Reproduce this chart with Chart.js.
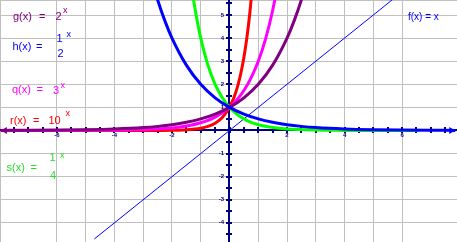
<!DOCTYPE html>
<html>
<head>
<meta charset="utf-8">
<script src="https://cdn.jsdelivr.net/npm/chart.js@4.4.1/dist/chart.umd.min.js"></script>
<style>
  html, body { margin: 0; padding: 0; background: #ffffff; }
  canvas { display: block; }
</style>
</head>
<body>
<canvas id="graph" width="457" height="242"></canvas>
<script>
// Points along each curve
const gX = [-7.95, -7, -6, -5, -4, -3, -2.5, -2, -1.5, -1, -0.5, 0, 0.5, 1, 1.5, 2, 2.25, 2.5, 2.75];
const gY = [0.004, 0.008, 0.016, 0.031, 0.063, 0.125, 0.177, 0.25, 0.354, 0.5, 0.707, 1, 1.414, 2, 2.828, 4, 4.757, 5.657, 6.727];

const hX = [-2.75, -2.5, -2.25, -2, -1.5, -1, -0.5, 0, 0.5, 1, 1.5, 2, 2.5, 3, 4, 5, 6, 7, 7.85];
const hY = [6.727, 5.657, 4.757, 4, 2.828, 2, 1.414, 1, 0.707, 0.5, 0.354, 0.25, 0.177, 0.125, 0.063, 0.031, 0.016, 0.008, 0.004];

const qX = [-7.95, -6, -5, -4, -3, -2.5, -2, -1.5, -1, -0.5, 0, 0.25, 0.5, 0.75, 1, 1.25, 1.5, 1.75];
const qY = [0.0002, 0.0014, 0.0041, 0.0123, 0.037, 0.064, 0.111, 0.192, 0.333, 0.577, 1, 1.316, 1.732, 2.28, 3, 3.948, 5.196, 6.839];

const rX = [-7.95, -4, -3, -2, -1.5, -1, -0.75, -0.5, -0.25, 0, 0.1, 0.2, 0.3, 0.4, 0.5, 0.6, 0.7, 0.8];
const rY = [0, 0.0001, 0.001, 0.01, 0.032, 0.1, 0.178, 0.316, 0.562, 1, 1.259, 1.585, 1.995, 2.512, 3.162, 3.981, 5.012, 6.31];

const sX = [-1.4, -1.3, -1.2, -1.1, -1, -0.75, -0.5, -0.25, 0, 0.25, 0.5, 0.75, 1, 1.5, 2, 3, 4, 5, 6.6];
const sY = [6.964, 6.063, 5.278, 4.595, 4, 2.828, 2, 1.414, 1, 0.707, 0.5, 0.354, 0.25, 0.125, 0.063, 0.016, 0.004, 0.001, 0.0001];

const fX = [-4.7, 5.8];
const fY = [-4.7, 5.8];

// Axis labels
const xTickLabels = [-6, -4, -2, 2, 4, 6];
const yTickLabels = [-4, -3, -2, -1, 1, 2, 3, 4, 5];

const GRID_COLOR = "#c0c0c0";
const AXIS_COLOR = "#000080";
const FONT = '"Liberation Sans", Arial, sans-serif';

/**
 * Zip x and y arrays into scatter points.
 */
function toPoints(xs, ys) {
  return xs.map((x, i) => ({ x: x, y: ys[i] }));
}

function curve(xs, ys, color, width) {
  return {
    data: toPoints(xs, ys),
    borderColor: color,
    backgroundColor: color,
    borderWidth: width,
    showLine: true,
    pointRadius: 0,
    cubicInterpolationMode: "monotone",
  };
}

// Formula labels drawn on the left; [text, x, baseline, size]
const formulas = [
  { color: "#800080", parts: [["g(x)", 13, 20, 11], ["=", 39, 20, 11], ["2", 55.5, 20, 11], ["x", 63, 12.5, 9]] },
  { color: "#0000ff", parts: [["h(x)", 12.5, 50, 11], ["=", 36, 50, 11], ["x", 66.5, 37, 9]],
    frac: [["1", 59.5, 42], ["2", 60.5, 56.5]] },
  { color: "#ff00ff", parts: [["q(x)", 12, 93, 11], ["=", 36.5, 93, 11], ["3", 53, 93.5, 11], ["x", 60.5, 87.5, 9]] },
  { color: "#ff0000", parts: [["r(x)", 10, 123.5, 11], ["=", 33, 123.5, 11], ["10", 48.5, 123.5, 11], ["x", 65.5, 116, 9]] },
  { color: "#28dc28", parts: [["s(x)", 6.5, 171, 11], ["=", 30.5, 171, 11], ["x", 60, 158, 9]],
    frac: [["1", 52.5, 161], ["4", 53, 178.5]] },
  { color: "#0000ff", parts: [["f(x) = x", 408, 19.5, 10]] },
];

/**
 * Axes through the origin with small ticks, drawn under the curves.
 */
const centerAxes = {
  id: "centerAxes",
  beforeDatasetsDraw(chart) {
    const { ctx, chartArea, scales } = chart;
    const x0 = Math.floor(scales.x.getPixelForValue(0));
    const y0 = Math.floor(scales.y.getPixelForValue(0));
    ctx.save();
    ctx.strokeStyle = AXIS_COLOR;
    ctx.lineWidth = 2;
    ctx.beginPath();
    ctx.moveTo(chartArea.left, y0);
    ctx.lineTo(chartArea.right, y0);
    ctx.moveTo(x0, chartArea.top);
    ctx.lineTo(x0, chartArea.bottom);
    // small ticks every half unit
    for (let v = Math.ceil(scales.x.min * 2) / 2; v <= scales.x.max; v += 0.5) {
      const px = Math.round(scales.x.getPixelForValue(v));
      ctx.moveTo(px, y0 - 3);
      ctx.lineTo(px, y0 + 3);
    }
    for (let v = Math.ceil(scales.y.min * 2) / 2; v <= scales.y.max; v += 0.5) {
      const py = Math.round(scales.y.getPixelForValue(v));
      ctx.moveTo(x0 - 3, py);
      ctx.lineTo(x0 + 3, py);
    }
    ctx.stroke();

    ctx.fillStyle = AXIS_COLOR;
    ctx.font = `bold 6px ${FONT}`;
    ctx.textAlign = "center";
    ctx.textBaseline = "middle";
    for (const v of xTickLabels) {
      ctx.fillText(String(v), scales.x.getPixelForValue(v), y0 + 5);
    }
    ctx.textAlign = "right";
    for (const v of yTickLabels) {
      ctx.fillText(String(v), x0 - 5, scales.y.getPixelForValue(v));
    }
    ctx.restore();
  },
};

function drawArrow(ctx, tipX, tipY, dir, color) {
  ctx.fillStyle = color;
  ctx.beginPath();
  ctx.moveTo(tipX, tipY);
  ctx.lineTo(tipX - dir * 6, tipY - 3.5);
  ctx.lineTo(tipX - dir * 6, tipY + 3.5);
  ctx.closePath();
  ctx.fill();
}

/**
 * Arrow heads on the curve ends and the formula text.
 */
const decorations = {
  id: "decorations",
  afterDatasetsDraw(chart) {
    const { ctx } = chart;
    const hMeta = chart.getDatasetMeta(0);
    const gMeta = chart.getDatasetMeta(1);
    ctx.save();
    const gStart = gMeta.data[0];
    drawArrow(ctx, gStart.x, gStart.y, -1, "#800080");
    const hEnd = hMeta.data[hMeta.data.length - 1];
    drawArrow(ctx, hEnd.x, hEnd.y, 1, "#0000ff");

    ctx.textBaseline = "alphabetic";
    for (const f of formulas) {
      ctx.fillStyle = f.color;
      ctx.textAlign = "left";
      for (const [text, x, y, size] of f.parts) {
        ctx.font = `${size}px ${FONT}`;
        ctx.fillText(text, x, y);
      }
      if (f.frac) {
        ctx.textAlign = "center";
        ctx.font = `11px ${FONT}`;
        for (const [text, x, y] of f.frac) {
          ctx.fillText(text, x, y);
        }
      }
    }
    ctx.restore();
  },
};

const ctx = document.getElementById("graph");

new Chart(ctx, {
  type: "scatter",
  data: {
    // first dataset is drawn on top
    datasets: [
      curve(hX, hY, "#0000ff", 3),
      curve(gX, gY, "#800080", 3),
      curve(sX, sY, "#00ff00", 3),
      curve(qX, qY, "#ff00ff", 3),
      curve(rX, rY, "#ff0000", 3),
      curve(fX, fY, "#0000ff", 1),
    ],
  },
  options: {
    responsive: false,
    animation: false,
    layout: { padding: 0 },
    plugins: {
      legend: { display: false },
      tooltip: { enabled: false },
    },
    scales: {
      x: {
        type: "linear",
        min: -7.98,
        max: 7.91,
        border: { display: false },
        grid: { color: GRID_COLOR, lineWidth: 1, drawTicks: false },
        ticks: { display: false, stepSize: 1 },
      },
      y: {
        type: "linear",
        min: -4.83,
        max: 5.65,
        border: { display: false },
        grid: { color: GRID_COLOR, lineWidth: 1, drawTicks: false },
        ticks: { display: false, stepSize: 1 },
      },
    },
  },
  plugins: [centerAxes, decorations],
});
</script>
</body>
</html>
